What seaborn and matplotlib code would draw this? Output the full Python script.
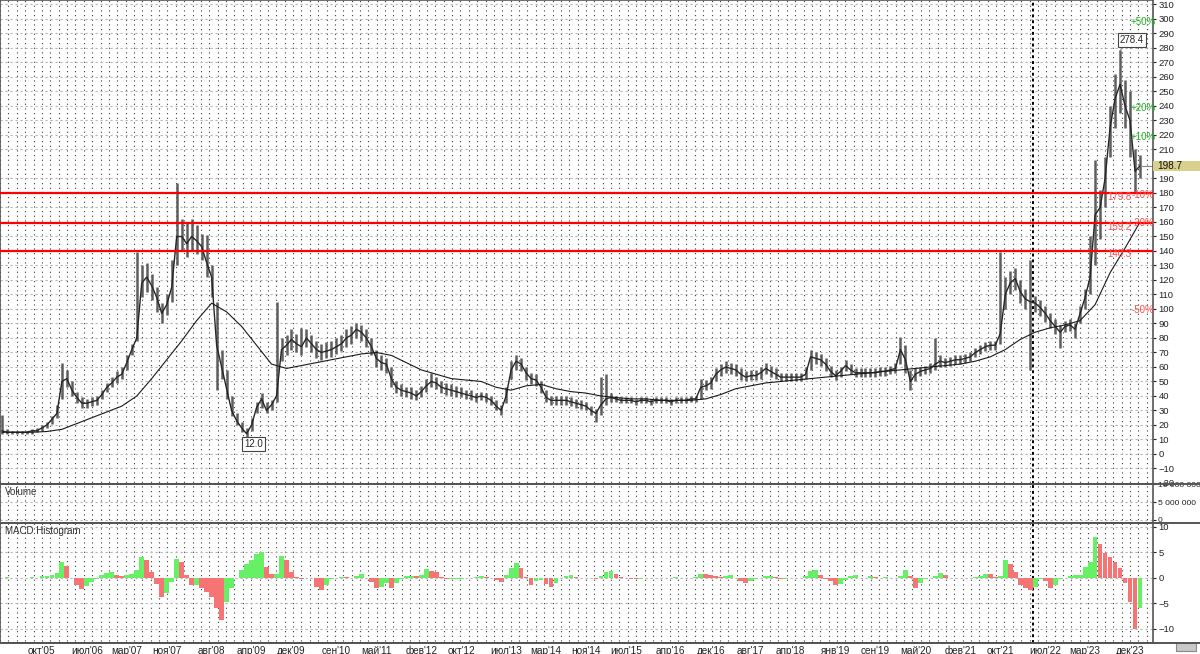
import numpy as np
import pandas as pd
import seaborn as sns
import matplotlib.pyplot as plt
import matplotlib.transforms as mtransforms
from matplotlib.patches import Rectangle
from matplotlib.lines import Line2D


# monthly data, Feb 2005 .. Feb 2024
close = [16, 15, 15, 15, 15, 15, 16, 16, 18, 20, 24,
         28, 50, 52, 44, 39, 35, 35, 36, 37, 41, 46, 49,
         53, 55, 63, 72, 80, 118, 122, 116, 108, 97, 103, 115,
         150, 150, 145, 150, 147, 143, 132, 122, 75, 60, 45, 30,
         23, 18, 14, 20, 32, 38, 30, 34, 40, 72, 75, 79,
         76, 74, 80, 76, 72, 70, 71, 72, 74, 76, 80, 82,
         86, 84, 80, 74, 66, 63, 62, 52, 46, 44, 43, 42,
         40, 43, 47, 50, 49, 46, 45, 44, 43, 42, 41, 40,
         39, 40, 39, 37, 33, 30, 40, 58, 64, 62, 56, 52,
         51, 46, 39, 37, 37, 37, 37, 36, 35, 34, 33, 30,
         28, 34, 38, 39, 38, 37, 37, 37, 36, 37, 37, 36,
         37, 37, 37, 36, 37, 37, 37, 38, 38, 46, 47, 49,
         55, 58, 60, 59, 58, 55, 53, 54, 54, 56, 59, 57,
         55, 53, 53, 53, 53, 53, 55, 67, 66, 65, 62, 57,
         54, 57, 61, 58, 56, 56, 56, 56, 56, 57, 57, 58,
         59, 72, 65, 50, 55, 57, 58, 59, 62, 64, 63, 64,
         65, 65, 66, 67, 70, 72, 74, 75, 75, 83, 110, 118,
         121, 112, 107, 105, 104, 101, 97, 92, 88, 84, 88, 89,
         86, 97, 108, 122, 165, 170, 190, 225, 245, 255, 240, 230,
         195, 198.7]

high = [27, 17, 16, 16, 16, 16, 17, 18, 20, 22, 26,
        34, 63, 58, 50, 43, 39, 38, 39, 40, 44, 49, 53,
        57, 60, 68, 76, 139, 130, 132, 124, 115, 104, 110, 134,
        187, 162, 160, 162, 158, 152, 151, 130, 105, 72, 58, 40,
        28, 22, 18, 25, 36, 42, 36, 37, 105, 80, 82, 86,
        83, 87, 86, 82, 78, 76, 77, 78, 80, 82, 86, 88,
        90, 89, 86, 80, 72, 68, 66, 60, 50, 48, 46, 46,
        44, 47, 52, 56, 53, 50, 49, 48, 47, 46, 44, 44,
        42, 43, 42, 40, 37, 34, 46, 64, 68, 66, 60, 56,
        55, 50, 44, 40, 40, 40, 40, 39, 38, 37, 36, 33,
        31, 53, 55, 42, 40, 39, 39, 39, 38, 39, 39, 38,
        39, 39, 39, 38, 39, 39, 39, 40, 40, 52, 51, 53,
        59, 62, 64, 63, 62, 59, 57, 58, 58, 60, 63, 61,
        59, 56, 56, 56, 56, 56, 60, 72, 70, 69, 66, 61,
        58, 60, 65, 62, 59, 59, 59, 59, 59, 60, 60, 61,
        63, 81, 75, 58, 59, 60, 61, 63, 80, 68, 66, 67,
        68, 68, 69, 70, 73, 75, 77, 78, 78, 139, 122, 126,
        128, 120, 114, 134, 109, 106, 102, 97, 93, 89, 92, 93,
        90, 102, 114, 150, 203, 182, 205, 240, 262, 278.4, 258, 250,
        210, 206]

low = [14, 14, 14, 14, 14, 14, 14, 15, 16, 18, 21,
       25, 38, 46, 40, 35, 32, 32, 33, 34, 38, 43, 46,
       49, 52, 58, 68, 78, 108, 112, 106, 98, 90, 96, 105,
       130, 140, 136, 140, 138, 134, 122, 108, 44, 52, 38, 26,
       20, 15, 12, 16, 28, 32, 28, 30, 36, 64, 68, 72,
       70, 68, 74, 70, 66, 65, 66, 67, 69, 71, 74, 76,
       80, 78, 74, 68, 60, 58, 56, 46, 42, 40, 39, 38,
       37, 39, 43, 46, 45, 42, 41, 40, 39, 39, 38, 37,
       36, 37, 36, 34, 30, 27, 35, 52, 58, 57, 51, 48,
       47, 42, 36, 34, 34, 34, 34, 33, 32, 31, 30, 27,
       22, 27, 34, 36, 36, 35, 35, 35, 34, 35, 35, 34,
       35, 35, 35, 34, 35, 35, 35, 36, 36, 38, 44, 45,
       50, 54, 56, 55, 54, 51, 50, 51, 51, 52, 55, 53,
       52, 50, 50, 50, 50, 50, 52, 58, 62, 61, 57, 53,
       51, 53, 57, 55, 53, 53, 53, 53, 53, 54, 54, 55,
       56, 62, 56, 44, 50, 54, 55, 56, 58, 60, 60, 61,
       62, 62, 63, 64, 67, 69, 71, 72, 72, 76, 100, 110,
       113, 104, 100, 58, 98, 95, 91, 87, 83, 73, 84, 85,
       80, 90, 100, 110, 130, 148, 170, 205, 225, 235, 225, 205,
       180, 190]

# moving average, every 3rd month
ma = [15, 15, 15, 15.5, 17, 21, 25, 29, 33, 40, 52, 65, 78, 92, 104, 98,
      88, 75, 62, 59, 61, 63, 65, 67, 69, 70, 68, 63, 58, 55, 52, 51,
      50, 46, 44, 47, 48, 45, 43, 42, 40, 39, 38, 38, 37, 37, 37, 38,
      41, 45, 47, 49, 50, 51, 52, 53, 54, 55, 56, 57, 58, 59, 60, 61,
      62, 64, 67, 72, 79, 84, 87, 89, 92, 103, 125, 142, 160]

macd = [0, 0.2, 0, 0, 0, 0, 0.2, 0, 0.3, 0.4, 0.6,
        1.0, 3.0, 2.3, 0, -1.5, -2.2, -1.6, -0.9, -0.2, 0.5, 1.0, 1.2,
        0.6, 0.4, 0.5, 0.8, 1.4, 4.0, 3.4, 1.2, -1.3, -3.8, -3.0, -0.8,
        3.6, 3.0, 0.5, -1.4, -1.4, -2.0, -2.8, -3.7, -6.0, -8.3, -4.7, -2.1,
        0, 1.5, 2.6, 3.5, 4.6, 5.0, 2.0, 0.7, 0.8, 4.2, 3.5, 1.2,
        0.2, -0.3, 0, -0.1, -1.8, -2.4, -1.4, -0.3, 0, 0.2, 0.1, 0,
        0.4, 0.7, 0, -0.8, -2.0, -1.8, -1.1, -2.1, -1.0, -0.2, 0.4, 0.4,
        0.3, 0.5, 1.6, 1.3, 1.2, 0.2, -0.3, -0.3, -0.3, -0.2, -0.1, -0.1,
        0.2, 0.3, 0.1, 0, -0.4, -0.9, 0.5, 1.8, 2.8, 1.8, 0.2, -1.4,
        -0.7, -0.5, -1.2, -1.8, -1.0, -0.1, 0.4, 0.5, 0.2, 0, 0, -0.1,
        -0.2, 0.3, 1.2, 1.3, 0.7, 0.2, 0, -0.2, -0.3, -0.2, -0.1, 0,
        0, 0, 0, 0, 0.1, 0, 0, 0, 0.2, 0.8, 0.7, 0.5,
        0.3, 0.2, 0.3, 0.5, 0, -0.6, -1.1, -0.7, -0.3, 0, 0.3, 0.4,
        0.1, -0.3, -0.2, -0.1, 0, 0, 0.3, 1.3, 1.5, 0.5, -0.2, -0.7,
        -1.4, -1.2, -0.4, 0.3, 0.5, 0, 0, 0.3, 0.1, 0, 0.2, 0,
        0, 0.4, 1.5, 0.3, -2.0, -1.1, -0.3, 0, 0.4, 1.0, 0.5, 0,
        0, 0, 0, 0, 0.1, 0.4, 0.8, 0.7, 0.2, 0.3, 3.5, 2.6,
        1.2, -1.5, -2.0, -2.5, -1.8, -0.3, -0.6, -2.0, -1.5, -0.3, 0, 0.3,
        0.5, 0.5, 2.0, 3.0, 8.0, 6.5, 4.8, 4.0, 3.1, 1.8, -1.0, -4.8,
        -10.0, -6.0]

levels = [179.8, 159.2, 140.3]
pct_steps = [50, 20, 10, -10, -20, -50]
tick_months = ["2005-10", "2006-07", "2007-03", "2007-11", "2008-08", "2009-04",
               "2009-12", "2010-09", "2011-05", "2012-02", "2012-10", "2013-07",
               "2014-03", "2014-11", "2015-07", "2016-04", "2016-12", "2017-08",
               "2018-04", "2019-01", "2019-09", "2020-05", "2021-02", "2021-10",
               "2022-07", "2023-03", "2023-12"]
tick_labels = ["окт'05", "июл'06", "мар'07", "ноя'07", "авг'08", "апр'09",
               "дек'09", "сен'10", "май'11", "фев'12", "окт'12", "июл'13",
               "мар'14", "ноя'14", "июл'15", "апр'16", "дек'16", "авг'17",
               "апр'18", "янв'19", "сен'19", "май'20", "фев'21", "окт'21",
               "июл'22", "мар'23", "дек'23"]
closure_month = "2022-04"

start = pd.Period("2005-02", freq="M")
m = np.arange(len(close))
ma_m = np.arange(len(ma)) * 3
ticks = [(pd.Period(s, freq="M") - start).n for s in tick_months]
closure = (pd.Period(closure_month, freq="M") - start).n + 0.6

sns.set_style("white")
plt.rcParams["font.family"] = ["Liberation Sans", "DejaVu Sans"]

W, H = 1200, 654
fig = plt.figure(figsize=(12, 6.54), dpi=100)


def panel(top, bottom, **kw):
    return fig.add_axes([0, 1 - bottom / H, 1153 / W, (bottom - top) / H], **kw)


ax_p = panel(0, 484)
ax_v = panel(484, 523, sharex=ax_p)
ax_m = panel(523, 643, sharex=ax_p)

step = (ticks[-1] - ticks[0]) / 130
grid_x = ticks[0] + step * np.arange(-6, 140)

for ax in (ax_p, ax_v, ax_m):
    ax.set_facecolor("white")
    for s in ax.spines.values():
        s.set_color("#555555")
        s.set_linewidth(1.2)
    ax.yaxis.tick_right()
    ax.tick_params(axis="y", labelsize=6.8, length=2, pad=2, colors="#222222")
    ax.vlines(grid_x, -1e9, 1e9, colors="#3a3a3a", linewidth=0.8,
              linestyles=(0, (1, 3.2)), zorder=0)
    ax.axvline(closure, color="black", lw=1.4, ls=(0, (1.5, 1.5)), zorder=1)

# price panel
ax_p.vlines(m, low, high, colors="#5e5e5e", linewidth=1.8, zorder=2)
sns.lineplot(x=m, y=close, ax=ax_p, color="#262626", lw=1.0, zorder=3)
sns.lineplot(x=ma_m, y=ma, ax=ax_p, color="#1a1a1a", lw=0.8, zorder=4)
last = close[-1]
ax_p.set_ylim(-20.7, 313.1)
ax_p.set_yticks([t for t in range(-20, 311, 10) if abs(t - last) > 5])
ax_p.grid(axis="y", color="#b5b5b5", lw=0.8, ls=(0, (2, 2.5)))
ax_p.set_xlim(-0.4, 230.6)
ax_p.tick_params(axis="x", bottom=False, labelbottom=False)

for lv in levels:
    ax_p.axhline(lv, color="#ff0000", lw=1.6, zorder=5)
    ax_p.text(223.8, lv - 2.4, f"{lv:.1f}", color="#ff4d4d", fontsize=7,
              ha="center", va="center", zorder=6)

for p in pct_steps:
    col = "#22b022" if p > 0 else "#ff4d4d"
    ax_p.text(228.6, last * (1 + p / 100), f"{p:+d}%", color=col, fontsize=7,
              ha="center", va="center", zorder=6)

# current price tag on the axis
blend = mtransforms.blended_transform_factory(ax_p.transAxes, ax_p.transData)
ax_p.add_patch(Rectangle((1.0, last - 3.4), W / 1153 - 1.0, 6.8, transform=blend,
                         facecolor="#d8d08c", edgecolor="none", clip_on=False, zorder=6))
ax_p.text(1.004, last, f"{last:.1f}", transform=blend, fontsize=7.2,
          va="center", ha="left", color="#111111", zorder=7)
ax_p.plot([m[-1], 230.6], [last, last], color="#888888", lw=0.8)

# max / min tags
imax = int(np.argmax(high))
imin = int(np.argmin(low))
box = dict(boxstyle="square,pad=0.18", fc="white", ec="#444444", lw=0.8)
ax_p.annotate(f"{high[imax]:.1f}", xy=(m[imax], high[imax]), xytext=(m[imax] + 2.4, 285.5),
              fontsize=7, ha="center", va="center", bbox=box,
              arrowprops=dict(arrowstyle="-", color="#888888", lw=0.7), zorder=8)
ax_p.annotate(f"{low[imin]:.1f}", xy=(m[imin], low[imin]), xytext=(m[imin] + 1.4, 6.9),
              fontsize=7, ha="center", va="center", bbox=box,
              arrowprops=dict(arrowstyle="-", color="#888888", lw=0.7), zorder=8)

# volume panel
ax_v.set_ylim(-0.9e6, 10.1e6)
ax_v.set_yticks([0, 5e6, 10e6])
ax_v.set_yticklabels(["0", "5 000 000", "10 000 000"])
ax_v.tick_params(axis="y", labelsize=6.0, pad=1.5)
ax_v.grid(axis="y", color="#b5b5b5", lw=0.8, ls=(0, (2, 2.5)))
ax_v.tick_params(axis="x", bottom=False, labelbottom=False)
ax_v.text(0.004, 0.8, "Volume", transform=ax_v.transAxes, fontsize=7,
          color="#333333", va="center")

# MACD histogram
mv = np.array(macd)
prev = np.r_[0, mv[:-1]]
colors = np.where(mv >= prev, "#66f066", "#f77474")
ax_m.bar(m, mv, width=0.96, color=colors, edgecolor="none", zorder=2)
ax_m.set_ylim(-12.8, 10.7)
ax_m.set_yticks([-10, -5, 0, 5, 10])
ax_m.grid(axis="y", color="#b5b5b5", lw=0.8, ls=(0, (2, 2.5)))
ax_m.text(0.004, 0.93, "MACD Histogram", transform=ax_m.transAxes, fontsize=7,
          color="#333333", va="center")
ax_m.set_xticks(ticks)
ax_m.set_xticklabels(tick_labels)
ax_m.tick_params(axis="x", labelsize=7.2, length=0, pad=2, colors="#222222")

# panel separators and scroll box
for yy in (484, 523, 643):
    fig.add_artist(Line2D([0, 1], [1 - yy / H, 1 - yy / H], color="#555555", lw=1.4))
fig.add_artist(Rectangle((1176 / W, 1 - 651 / H), 20 / W, 8 / H, transform=fig.transFigure,
                         facecolor="#c8c8c8", edgecolor="#888888", lw=0.8))

fig.savefig("out.png", dpi=100)
